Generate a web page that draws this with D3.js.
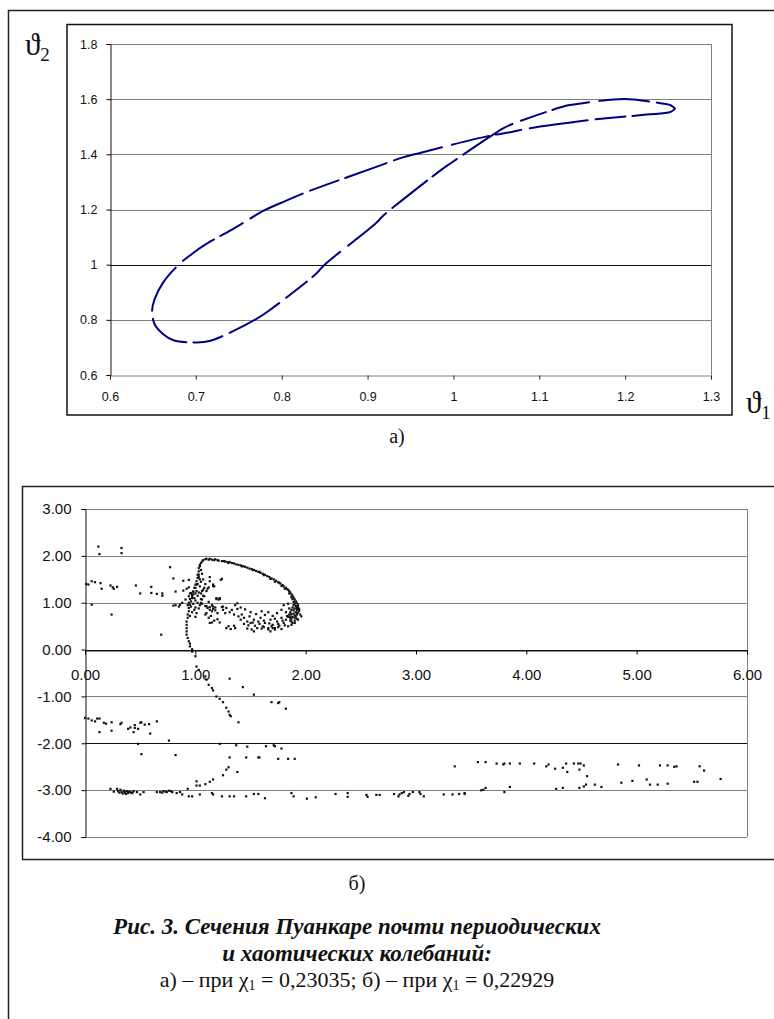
<!DOCTYPE html>
<html>
<head>
<meta charset="utf-8">
<script src="https://cdn.jsdelivr.net/npm/d3@7"></script>
<style>
  body { margin: 0; background: #fff; }
  svg text { font-family: "Liberation Sans", Arial, sans-serif; fill: #111; }
  .serif { font-family: "Liberation Serif", "DejaVu Serif", serif; }
</style>
</head>
<body>
<svg id="fig"></svg>
<script>
const width = 774;
const height = 1019;

// --- chart a): quasi-periodic section, theta1 / theta2 traced along the loop
const theta1 = [1.258, 1.253, 1.225, 1.175, 1.163, 1.086, 1.068, 1.040, 0.961, 0.940, 0.915,
  0.827, 0.806, 0.779, 0.757, 0.744, 0.709, 0.695, 0.680, 0.662, 0.652, 0.649, 0.652, 0.662,
  0.674, 0.701, 0.717, 0.744, 0.773, 0.785, 0.839, 0.850, 0.909, 0.919, 0.940, 0.985, 0.996,
  1.043, 1.059, 1.072, 1.130, 1.140, 1.187, 1.210, 1.231, 1.253, 1.258];
const theta2 = [1.566, 1.554, 1.544, 1.530, 1.526, 1.493, 1.481, 1.466, 1.405, 1.388, 1.360,
  1.261, 1.233, 1.196, 1.155, 1.131, 1.069, 1.038, 1.000, 0.936, 0.875, 0.833, 0.784, 0.748,
  0.726, 0.718, 0.724, 0.760, 0.808, 0.833, 0.964, 1.000, 1.148, 1.180, 1.233, 1.342, 1.366,
  1.465, 1.496, 1.514, 1.575, 1.581, 1.599, 1.599, 1.590, 1.578, 1.566];
const aXTicks = [0.6, 0.7, 0.8, 0.9, 1, 1.1, 1.2, 1.3];
const aYTicks = [0.6, 0.8, 1, 1.2, 1.4, 1.6, 1.8];

// --- chart б): chaotic section
const chaosLeft = [[0.12,2.20],[0.13,2.04],[0.33,2.17],[0.33,2.06],
  [0.01,1.40],[0.03,1.39],[0.06,1.46],[0.09,1.44],[0.14,1.42],[0.15,1.30],
  [0.23,1.37],[0.25,1.33],[0.26,1.30],[0.29,1.34],[0.46,1.37],[0.50,1.20],[0.60,1.34],
  [0.60,1.21],[0.65,1.19],[0.70,1.20],[0.70,1.15],[0.77,1.76],[0.80,1.52],[0.82,1.24],
  [0.89,1.47],[0.94,1.49],[0.89,1.26],[0.92,1.30],[0.94,1.33],[0.06,0.96],[0.24,0.75],
  [0.69,0.32],[0.80,0.94],[0.82,0.95],[0.85,0.92],[0.86,0.96],[0.88,1.00],[0.91,1.07],
  [0.94,1.14],[0.95,1.20],[0.98,1.24],[1.00,1.32],[1.01,1.39],[1.04,1.50]];
const chaosStem = [[1.04,1.81],[1.03,1.74],[1.03,1.67],[1.02,1.60],[1.02,1.53],[1.01,1.46],
  [1.00,1.39],[0.99,1.32],[0.98,1.24],[0.97,1.17],[0.97,1.10],[0.96,1.03],[0.95,0.96],
  [0.94,0.89],[0.94,0.82],[0.93,0.75],[0.93,0.68],[0.92,0.60],[0.92,0.53],[0.92,0.46],
  [0.92,0.39],[0.92,0.32],[0.93,0.25],[0.94,0.18],[0.95,0.13],[0.95,0.07],[0.97,0.01],
  [0.97,-0.04],[0.96,1.21],[0.98,1.18],[1.00,1.20],[1.01,1.25],[0.99,1.10],[1.02,1.15],
  [1.03,1.22],[0.97,1.14],[0.95,1.08],[1.00,1.05],[1.02,1.00],[0.98,0.98],[1.04,0.95],
  [0.96,0.92],[1.00,0.90],[1.03,0.88],[0.99,0.85],[1.05,1.08],[1.06,1.25],[1.08,1.32],
  [1.04,1.35],[1.02,1.40],[1.05,1.45],[1.07,1.50],[1.03,1.55],[1.09,1.40],[1.11,1.30],
  [0.94,1.00],[0.93,0.95],[0.97,0.80],[1.01,0.78],[0.95,0.72],[1.00,0.70],[1.03,1.60],
  [1.05,1.70],[1.06,1.62]];
const chaosArc = [[1.04,1.78],[1.05,1.85],[1.06,1.88],[1.07,1.91],[1.09,1.93],[1.10,1.94],
  [1.12,1.92],[1.13,1.94],[1.15,1.92],[1.17,1.91],[1.18,1.93],[1.20,1.91],[1.21,1.90],
  [1.24,1.89],[1.26,1.89],[1.27,1.88],[1.29,1.87],[1.31,1.87],[1.33,1.85],[1.35,1.84],
  [1.37,1.82],[1.39,1.81],[1.41,1.80],[1.43,1.78],[1.45,1.77],[1.47,1.75],[1.49,1.73],
  [1.51,1.72],[1.53,1.70],[1.55,1.68],[1.57,1.66],[1.59,1.64],[1.61,1.62],[1.63,1.60],
  [1.65,1.57],[1.67,1.55],[1.69,1.52],[1.71,1.50],[1.73,1.47],[1.75,1.44],[1.77,1.41],
  [1.79,1.38],[1.80,1.35],[1.82,1.32],[1.83,1.29],[1.85,1.25],[1.86,1.22],[1.87,1.18],
  [1.88,1.15],[1.89,1.11],[1.90,1.07],[1.91,1.03],[1.92,0.99],[1.93,0.95],[1.93,0.91],
  [1.94,0.87],[1.94,0.83],[1.93,0.79],[1.92,0.75],[1.91,0.71],[1.30,1.85],[1.42,1.78],
  [1.52,1.70],[1.58,1.66],[1.62,1.59],[1.68,1.51],[1.72,1.45],[1.76,1.43],[1.78,1.36],
  [1.81,1.30],[1.84,1.28],[1.85,1.20],[1.87,1.12],[1.88,1.08],[1.89,1.02],[1.90,0.98],
  [1.91,0.93],[1.90,0.88],[1.92,0.85],[1.91,0.80],[1.89,0.77],[1.90,0.73],[1.88,0.70],
  [1.87,0.66],[1.86,0.62],[1.92,0.89],[1.89,0.95],[1.88,0.90],[1.87,0.85],[1.86,0.80],
  [1.85,0.75],[1.84,0.70],[1.87,0.76],[1.89,0.84]];
const chaosLoop = [[1.24,0.91],[1.25,0.85],[1.27,0.78],[1.28,0.89],[1.31,0.80],[1.33,0.85],
  [1.35,0.75],[1.38,0.87],[1.39,0.71],[1.41,0.64],[1.42,0.75],[1.44,0.68],[1.47,0.60],
  [1.49,0.71],[1.50,0.57],[1.53,0.64],[1.54,0.51],[1.57,0.60],[1.59,0.68],[1.61,0.50],
  [1.63,0.57],[1.66,0.46],[1.68,0.64],[1.70,0.53],[1.72,0.46],[1.74,0.60],[1.76,0.51],
  [1.78,0.68],[1.80,0.57],[1.82,0.64],[1.84,0.50],[1.86,0.71],[1.87,0.60],[1.90,0.68],
  [1.92,0.78],[1.93,0.64],[1.95,0.75],[1.96,0.71],[1.90,0.57],[1.87,0.53],[1.28,0.46],
  [1.30,0.50],[1.32,0.44],[1.35,0.51],[1.36,0.46],[1.51,0.43],[1.53,0.39],[1.56,0.46],
  [1.66,0.43],[1.68,0.39],[1.70,0.46],[1.72,0.43],[1.75,0.48],[1.78,0.44],[1.36,0.95],
  [1.41,0.90],[1.45,0.86],[1.50,0.80],[1.55,0.76],[1.60,0.82],[1.63,0.74],[1.66,0.80],
  [1.70,0.72],[1.74,0.78],[1.78,0.85],[1.82,0.80],[1.85,0.88],[1.80,0.95],[1.84,0.98],
  [1.75,0.55],[1.62,0.62],[1.48,0.52],[1.52,0.58],[1.44,0.55],[1.58,0.55],[1.67,0.56],
  [1.81,0.52],[1.86,0.68],[1.90,0.62],[1.92,0.66],[1.88,0.57],[1.83,0.72],[1.79,0.62],
  [1.72,0.66],[1.69,0.50],[1.60,0.45],[1.62,0.48],[1.47,0.45],[1.05,1.20],[1.07,1.15],
  [1.10,1.25],[1.12,1.02],[1.15,0.95],[1.18,0.90],[1.13,0.85],[1.10,0.93],[1.06,0.98],
  [1.09,0.75],[1.14,0.72],[1.20,0.65],[1.22,0.58],[1.17,0.62],[1.13,1.55],[1.24,1.51],
  [1.16,1.36],[1.12,1.33],[1.07,1.28],[1.19,1.10],[1.22,1.08],[1.38,0.99],[1.25,0.92],
  [1.16,0.92],[1.13,1.46],[1.16,1.39],[1.23,1.49],[1.17,1.35],[1.19,1.08],[1.21,1.07],
  [1.22,1.10],[1.08,1.14],[1.06,1.07],[1.05,1.00],[1.09,0.93],[1.11,0.89],[1.13,0.91],
  [1.15,0.82],[1.16,0.87],[1.18,0.84],[1.20,0.78],[1.10,0.78],[1.12,0.68],[1.13,0.57],
  [1.15,0.58]];
const chaosLower = [[1.00,-0.14],[1.01,-0.36],[1.03,-0.43],[1.09,-0.57],[1.10,-0.64],
  [1.12,-0.75],[1.15,-0.82],[1.16,-0.87],[1.19,-1.00],[1.22,-1.05],[1.25,-1.12],[1.28,-1.24],
  [1.30,-1.32],[1.31,-1.39],[1.32,-1.42],[1.39,-1.55],[1.31,-0.62],[1.43,-0.80],[1.53,-0.96],
  [1.69,-1.12],[1.75,-1.14],[1.76,-1.12],[1.82,-1.26],
  [0.00,-1.46],[0.03,-1.47],[0.06,-1.51],[0.09,-1.53],[0.11,-1.47],[0.13,-1.47],[0.13,-1.76],
  [0.17,-1.56],[0.19,-1.58],[0.24,-1.55],[0.24,-1.73],[0.32,-1.59],[0.33,-1.56],[0.39,-1.69],
  [0.41,-1.66],[0.44,-1.76],[0.45,-1.61],[0.45,-1.67],[0.48,-1.69],[0.50,-1.56],[0.51,-1.55],
  [0.54,-1.60],[0.58,-1.59],[0.59,-1.79],[0.65,-1.53],
  [0.48,-2.01],[0.51,-2.23],[0.76,-1.94],[0.82,-2.25],
  [1.22,-2.01],[1.37,-2.04],[1.47,-2.07],[1.64,-2.06],[1.71,-2.04],[1.72,-2.06],[1.78,-2.11],
  [1.31,-2.30],[1.46,-2.30],[1.57,-2.30],[1.58,-2.30],[1.75,-2.33],[1.84,-2.33],[1.90,-2.33],
  [1.30,-2.51],[1.28,-2.56],[1.38,-2.61],[1.25,-2.68],[1.16,-2.77],[1.13,-2.82],[1.09,-2.87],
  [1.04,-2.90],[1.01,-2.81],[1.01,-2.90],[0.93,-2.97]];
const chaosBand = [[0.23,-2.97],[0.29,-2.97],[0.30,-3.02],[0.32,-2.99],[0.33,-3.04],
  [0.35,-3.01],[0.36,-3.06],[0.38,-3.02],[0.39,-3.06],[0.41,-3.04],[0.42,-3.06],[0.44,-3.02],
  [0.47,-3.04],[0.50,-3.09],[0.53,-3.04],[0.65,-3.04],[0.68,-3.04],[0.71,-3.02],[0.74,-3.04],
  [0.76,-3.01],[0.79,-3.04],[0.83,-3.06],[0.86,-3.04],[0.88,-3.09],[0.94,-3.13],[0.97,-3.13],
  [1.04,-3.09],[1.15,-3.06],[1.16,-3.09],[1.24,-3.13],[1.31,-3.13],[1.35,-3.13],[1.46,-3.13],
  [1.53,-3.08],[1.57,-3.08],[1.63,-3.17],[1.87,-3.06],[1.89,-3.13],[2.01,-3.18],[2.09,-3.15],
  [0.31,-3.05],[0.34,-3.07],[0.36,-3.03],[0.37,-3.08],[0.40,-3.03],[0.43,-3.05],[0.26,-3.03],
  [0.70,-3.05],[0.73,-3.03],[0.78,-3.02],
  [2.27,-3.08],[2.38,-3.06],[2.38,-3.14],[2.55,-3.10],[2.56,-3.14],[2.64,-3.10],[2.67,-3.10],
  [2.80,-3.08],[2.84,-3.13],[2.85,-3.09],[2.87,-3.06],[2.89,-3.04],[2.93,-3.12],[2.94,-3.08],
  [2.97,-3.04],[3.03,-3.04],[3.04,-3.08],[3.07,-3.13],[3.25,-3.09],[3.33,-3.09],[3.39,-3.08],
  [3.44,-3.06],[3.44,-3.08],[3.59,-3.00],[3.61,-2.99],[3.63,-2.95],[3.80,-3.04],[3.85,-2.93],
  [3.35,-2.49],[3.56,-2.40],[3.63,-2.40],[3.73,-2.43],[3.79,-2.45],[3.80,-2.43],[3.85,-2.43],
  [3.94,-2.43],[4.07,-2.43],[4.18,-2.49],[4.20,-2.45],[4.26,-2.54],[4.33,-2.52],[4.36,-2.43],
  [4.37,-2.61],[4.43,-2.43],[4.47,-2.43],[4.49,-2.43],[4.48,-2.56],[4.52,-2.47],[4.55,-2.70],
  [4.27,-2.97],[4.33,-2.95],[4.48,-2.95],[4.52,-2.92],[4.54,-2.88],[4.62,-2.88],[4.68,-2.93],
  [4.83,-2.45],[4.86,-2.84],[4.96,-2.80],[5.02,-2.47],[5.09,-2.77],[5.12,-2.88],[5.19,-2.88],
  [5.28,-2.86],[5.21,-2.47],[5.28,-2.47],[5.34,-2.50],[5.36,-2.49],[5.52,-2.82],[5.55,-2.82],
  [5.57,-2.49],[5.61,-2.58],[5.76,-2.76]];
const chaosPoints = [...chaosLeft, ...chaosStem, ...chaosArc, ...chaosLoop, ...chaosLower, ...chaosBand];
const bXTicks = [0, 1, 2, 3, 4, 5, 6];
const bYTicks = [-4, -3, -2, -1, 0, 1, 2, 3];

const svg = d3.select("#fig")
  .attr("width", width)
  .attr("height", height);

// page frame
svg.append("rect")
  .attr("x", 8.5).attr("y", 10.5)
  .attr("width", 800).attr("height", 1100)
  .attr("fill", "none").attr("stroke", "#222").attr("stroke-width", 1.5);

// ===================== chart a) =====================
svg.append("rect")
  .attr("x", 67).attr("y", 24.5)
  .attr("width", 665).attr("height", 390.5)
  .attr("fill", "none").attr("stroke", "#111").attr("stroke-width", 1.5);

const xa = d3.scaleLinear().domain([0.6, 1.3]).range([110, 711]);
const ya = d3.scaleLinear().domain([0.6, 1.8]).range([375, 44]);

const ga = svg.append("g");

// gridlines (the 1.0 line prints darker in the source)
ga.selectAll(".grid")
  .data(aYTicks.filter(d => d > 0.6))
  .enter().append("line")
  .attr("x1", xa(0.6)).attr("x2", xa(1.3))
  .attr("y1", d => Math.round(ya(d)) + 0.5).attr("y2", d => Math.round(ya(d)) + 0.5)
  .attr("stroke", d => d === 1 ? "#111" : "#808080");

// plot border right
ga.append("line")
  .attr("x1", xa(1.3) + 0.5).attr("x2", xa(1.3) + 0.5)
  .attr("y1", ya(1.8)).attr("y2", ya(0.6))
  .attr("stroke", "#808080");

const axA = ga.append("g")
  .attr("transform", `translate(0,${Math.round(ya(0.6)) + 0.5})`)
  .call(d3.axisBottom(xa).tickValues(aXTicks).tickSize(4).tickPadding(12.5).tickFormat(d => String(d)));
axA.select(".domain").attr("stroke", "#808080");
axA.selectAll(".tick line").attr("stroke", "#222");

const ayA = ga.append("g")
  .attr("transform", `translate(${Math.round(xa(0.6)) + 0.5},0)`)
  .call(d3.axisLeft(ya).tickValues(aYTicks).tickSize(4).tickPadding(9).tickFormat(d => String(d)));
ayA.select(".domain").attr("stroke", "#111");

ga.selectAll(".tick text")
  .attr("font-size", 12.5)
  .attr("font-family", "Liberation Sans, Arial, sans-serif")
  .attr("fill", "#222");

// the loop
const loopPts = theta1.map((t, i) => [t, theta2[i]]);
ga.append("path")
  .datum(loopPts)
  .attr("d", d3.line()
    .x(d => xa(d[0]))
    .y(d => ya(d[1]))
    .curve(d3.curveCatmullRom.alpha(0.5)))
  .attr("fill", "none")
  .attr("stroke", "#000080")
  .attr("stroke-width", 2)
  .attr("stroke-dasharray", "44,7,30,8,58,9,26,7,38,10,50,8")
  .attr("stroke-linecap", "round");

// axis symbols
const th2 = svg.append("text").attr("class", "serif")
  .attr("x", 25).attr("y", 55).attr("font-size", 31).text("ϑ");
th2.append("tspan").attr("font-size", 19).attr("dy", 6).text("2");
const th1 = svg.append("text").attr("class", "serif")
  .attr("x", 746).attr("y", 413).attr("font-size", 31).text("ϑ");
th1.append("tspan").attr("font-size", 19).attr("dy", 6).text("1");

svg.append("text").attr("class", "serif")
  .attr("x", 397).attr("y", 443).attr("text-anchor", "middle")
  .attr("font-size", 20).text("а)");

// ===================== chart б) =====================
svg.append("rect")
  .attr("x", 22.5).attr("y", 486.5)
  .attr("width", 800).attr("height", 373)
  .attr("fill", "none").attr("stroke", "#222").attr("stroke-width", 1.5);

const xb = d3.scaleLinear().domain([0, 6]).range([85, 747]);
const yb = d3.scaleLinear().domain([-4, 3]).range([837, 509]);

const gb = svg.append("g");

const darkRows = [0, -2];
gb.selectAll(".grid")
  .data(bYTicks)
  .enter().append("line")
  .attr("x1", xb(0)).attr("x2", xb(6))
  .attr("y1", d => Math.round(yb(d)) + 0.5).attr("y2", d => Math.round(yb(d)) + 0.5)
  .attr("stroke", d => darkRows.includes(d) ? "#111" : "#808080");

gb.append("line")
  .attr("x1", xb(6) + 0.5).attr("x2", xb(6) + 0.5)
  .attr("y1", yb(3)).attr("y2", yb(-4))
  .attr("stroke", "#808080");

const axB = gb.append("g")
  .attr("transform", `translate(0,${Math.round(yb(0)) + 0.5})`)
  .call(d3.axisBottom(xb).tickValues(bXTicks).tickSize(4).tickPadding(15).tickFormat(d => d.toFixed(2)));
axB.select(".domain").attr("stroke", "#111");

const ayB = gb.append("g")
  .attr("transform", `translate(${Math.round(xb(0)) + 0.5},0)`)
  .call(d3.axisLeft(yb).tickValues(bYTicks).tickSize(4).tickPadding(10).tickFormat(d => d.toFixed(2)));
ayB.select(".domain").attr("stroke", "#111");

gb.selectAll(".tick text")
  .attr("font-size", 15)
  .attr("font-family", "Liberation Sans, Arial, sans-serif")
  .attr("fill", "#222");

gb.selectAll(".dot")
  .data(chaosPoints)
  .enter().append("rect")
  .attr("class", "dot")
  .attr("x", d => xb(d[0]) - 1)
  .attr("y", d => yb(d[1]) - 1)
  .attr("width", 2.2)
  .attr("height", 2.2)
  .attr("fill", "#111");

svg.append("text").attr("class", "serif")
  .attr("x", 357).attr("y", 890).attr("text-anchor", "middle")
  .attr("font-size", 20).text("б)");

// ===================== caption =====================
const cap = svg.append("g");
cap.append("text").attr("class", "serif")
  .attr("x", 357).attr("y", 934).attr("text-anchor", "middle")
  .attr("font-size", 23).attr("font-weight", "bold").attr("font-style", "italic")
  .text("Рис. 3. Сечения Пуанкаре почти периодических");
cap.append("text").attr("class", "serif")
  .attr("x", 357).attr("y", 961).attr("text-anchor", "middle")
  .attr("font-size", 23).attr("font-weight", "bold").attr("font-style", "italic")
  .text("и хаотических колебаний:");

const line3 = cap.append("text").attr("class", "serif")
  .attr("x", 357).attr("y", 987).attr("text-anchor", "middle")
  .attr("font-size", 22);
line3.append("tspan").text("а) – при χ");
line3.append("tspan").attr("font-size", 14).attr("dy", 3).text("1");
line3.append("tspan").attr("dy", -3).text(" = 0,23035; б) – при χ");
line3.append("tspan").attr("font-size", 14).attr("dy", 3).text("1");
line3.append("tspan").attr("dy", -3).text(" = 0,22929");
</script>
</body>
</html>
